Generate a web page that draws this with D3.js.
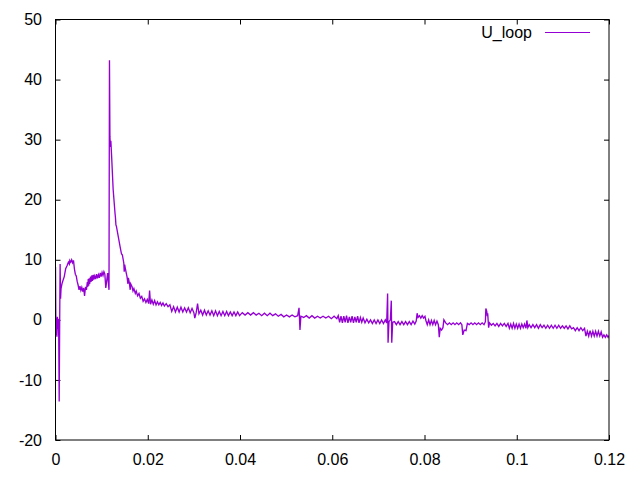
<!DOCTYPE html>
<html>
<head>
<meta charset="utf-8">
<script src="https://cdn.jsdelivr.net/npm/d3@7"></script>
<style>
  html, body { margin: 0; padding: 0; background: #fff; }
  svg { display: block; }
  text { font-family: "Liberation Sans", Arial, sans-serif; }
</style>
</head>
<body>
<script>
// ---- data ----
const seriesName = "U_loop";
const xTickValues = [0, 0.02, 0.04, 0.06, 0.08, 0.1, 0.12];
const xTickLabels = ["0", "0.02", "0.04", "0.06", "0.08", "0.1", "0.12"];
const yTickValues = [-20, -10, 0, 10, 20, 30, 40, 50];
const yTickLabels = ["-20", "-10", "0", "10", "20", "30", "40", "50"];

const time = [
0.0000,0.0001,0.0002,0.0003,0.0004,0.0005,0.0006,0.0007,0.0008,0.0009,
0.0010,0.0011,0.0012,0.0014,0.0016,0.0019,0.0022,0.0025,0.0028,0.0030,
0.0031,0.0033,0.0035,0.0037,0.0039,0.0041,0.0043,0.0045,0.0047,0.0049,
0.0051,0.0053,0.0055,0.0057,0.0059,0.0061,0.0063,0.0065,0.0067,0.0069,
0.0070,0.0071,0.0072,0.0073,0.0074,0.0076,0.0077,0.0079,0.0080,0.0082,
0.0083,0.0085,0.0087,0.0089,0.0091,0.0093,0.0095,0.0097,0.0099,0.0101,
0.0103,0.0105,0.0107,0.0109,0.0111,0.0113,0.0116,0.0117,0.0118,0.0119,
0.0120,0.0122,0.0125,0.0129,0.0130,0.0131,0.0132,0.0136,0.0140,0.0143,
0.0145,0.0148,0.0149,0.0150,0.0152,0.0155,0.0157,0.0158,0.0160,0.0162,
0.0163,0.0166,0.0168,0.0170,0.0173,0.0175,0.0178,0.0181,0.0184,0.0187,
0.0190,0.0193,0.0196,0.0199,0.0202,0.0204,0.0206,0.0209,0.0212,0.0215,
0.0218,0.0221,0.0224,0.0227,0.0230,0.0233,0.0236,0.0240,0.0244,0.0248,
0.0252,0.0256,0.0260,0.0264,0.0268,0.0272,0.0276,0.0280,0.0284,0.0288,
0.0292,0.0296,0.0300,0.0302,0.0305,0.0308,0.0311,0.0315,0.0319,0.0323,
0.0327,0.0331,0.0335,0.0339,0.0343,0.0347,0.0351,0.0355,0.0359,0.0363,
0.0367,0.0371,0.0375,0.0379,0.0383,0.0387,0.0391,0.0395,0.0399,0.0405,
0.0411,0.0417,0.0423,0.0429,0.0435,0.0441,0.0447,0.0453,0.0459,0.0465,
0.0471,0.0477,0.0483,0.0489,0.0495,0.0501,0.0507,0.0513,0.0519,0.0525,
0.0528,0.0530,0.0532,0.0538,0.0544,0.0550,0.0556,0.0562,0.0568,0.0574,
0.0580,0.0586,0.0592,0.0598,0.0604,0.0610,0.0613,0.0616,0.0619,0.0622,
0.0625,0.0628,0.0631,0.0634,0.0637,0.0640,0.0643,0.0646,0.0649,0.0652,
0.0655,0.0658,0.0661,0.0664,0.0667,0.0671,0.0675,0.0679,0.0683,0.0687,
0.0691,0.0695,0.0699,0.0703,0.0707,0.0711,0.0715,0.0718,0.0720,0.0721,
0.0723,0.0726,0.0728,0.0729,0.0731,0.0735,0.0739,0.0743,0.0747,0.0751,
0.0755,0.0759,0.0763,0.0767,0.0771,0.0775,0.0779,0.0782,0.0784,0.0786,
0.0789,0.0792,0.0795,0.0798,0.0801,0.0803,0.0806,0.0809,0.0812,0.0815,
0.0818,0.0821,0.0824,0.0827,0.0830,0.0832,0.0834,0.0837,0.0840,0.0842,
0.0846,0.0850,0.0854,0.0858,0.0862,0.0866,0.0870,0.0874,0.0878,0.0881,
0.0883,0.0886,0.0890,0.0893,0.0897,0.0901,0.0905,0.0909,0.0913,0.0917,
0.0921,0.0925,0.0929,0.0932,0.0933,0.0935,0.0936,0.0937,0.0939,0.0941,
0.0945,0.0949,0.0953,0.0957,0.0961,0.0965,0.0969,0.0973,0.0977,0.0981,
0.0984,0.0987,0.0990,0.0993,0.0996,0.0999,0.1002,0.1005,0.1008,0.1011,
0.1014,0.1017,0.1020,0.1022,0.1024,0.1027,0.1031,0.1035,0.1039,0.1043,
0.1047,0.1051,0.1055,0.1059,0.1063,0.1067,0.1071,0.1075,0.1079,0.1083,
0.1087,0.1091,0.1095,0.1099,0.1103,0.1107,0.1111,0.1115,0.1119,0.1123,
0.1127,0.1131,0.1135,0.1139,0.1143,0.1147,0.1150,0.1153,0.1156,0.1159,
0.1162,0.1165,0.1168,0.1171,0.1174,0.1177,0.1180,0.1183,0.1186,0.1189,
0.1192,0.1195,0.1198,0.1200
];

const uLoop = [
8.8,-2.5,0.3,-2.8,0.5,-1.5,0.2,-2.6,-13.6,-1.0,
9.3,3.5,5.2,6.0,6.5,7.2,8.5,9.0,9.6,9.3,
9.9,9.6,10.0,9.5,9.9,8.5,7.6,7.3,6.4,5.8,
5.0,5.6,4.9,5.4,4.7,5.3,4.0,5.5,5.0,6.3,
5.5,6.8,5.7,6.9,6.0,7.2,6.3,7.4,6.5,7.5,
6.7,7.3,6.8,7.6,6.9,7.5,7.0,7.8,7.2,7.9,
7.4,8.0,7.6,5.3,6.5,7.8,5.0,43.2,30.5,28.8,
29.8,26.7,21.7,17.8,17.0,15.8,15.6,13.9,12.2,11.0,
10.8,9.5,8.0,9.2,8.3,7.2,6.0,7.0,6.2,5.0,
6.0,5.5,4.8,5.2,4.4,4.8,4.0,4.4,3.6,3.9,
3.1,3.5,2.9,3.4,2.7,4.9,2.6,3.3,2.6,3.2,
2.5,3.0,2.5,2.9,2.4,2.8,2.3,2.7,2.2,2.5,
1.4,2.2,1.3,2.1,1.3,2.1,1.3,2.0,1.3,2.0,
1.2,1.9,1.2,0.3,1.2,2.7,1.0,1.6,0.8,1.6,
0.8,1.5,0.8,1.5,0.7,1.5,0.7,1.4,0.7,1.4,
0.7,1.4,0.7,1.3,0.7,1.3,0.7,1.3,0.7,1.2,
0.8,1.2,0.8,1.2,0.8,1.1,0.7,1.1,0.7,1.1,
0.7,1.0,0.6,0.9,0.5,0.8,0.5,0.8,0.5,0.7,
2.0,-1.7,0.6,0.4,0.7,0.3,0.7,0.3,0.6,0.3,
0.6,0.3,0.6,0.2,0.6,0.2,0.7,-0.4,0.6,-0.5,
0.6,-0.4,0.7,-0.5,0.5,-0.4,0.6,-0.5,0.5,-0.4,
0.6,-0.5,0.4,-0.4,0.3,-0.5,0.1,-0.5,0.0,-0.6,
0.0,-0.6,0.0,-0.6,0.0,-0.6,0.0,-0.5,4.4,-3.8,
-0.3,0.0,3.2,-3.8,-0.4,-0.3,-0.8,-0.3,-0.8,-0.3,
-0.8,-0.3,-0.8,-0.3,-0.8,-0.2,-0.7,-0.2,1.1,0.4,
0.7,0.3,0.7,0.3,0.6,-0.1,-0.8,0.0,-0.8,-0.1,
-0.8,-0.1,-0.8,-0.2,-0.8,-2.9,-1.4,-1.7,-1.3,0.0,
-0.5,-0.8,-0.5,-0.8,-0.5,-0.8,-0.5,-0.8,-0.5,-0.8,
-2.5,-1.7,-1.8,-0.6,-0.8,-0.5,-0.8,-0.5,-0.8,-0.5,
-0.8,-0.5,-0.8,-0.3,1.9,1.4,0.6,1.1,-1.3,-0.5,
-0.9,-0.6,-1.0,-0.6,-1.1,-0.6,-1.0,-0.6,-1.1,-0.6,
-1.4,-0.7,-1.4,-0.6,-1.4,-0.7,-1.4,-0.7,-1.4,-0.7,
-1.3,-0.7,-1.4,-0.1,-1.3,-0.8,-1.3,-0.8,-1.3,-0.8,
-1.4,-0.8,-1.3,-0.9,-1.4,-0.9,-1.4,-0.9,-1.4,-0.9,
-1.4,-0.9,-1.4,-1.0,-1.4,-1.0,-1.5,-1.0,-1.5,-1.3,
-1.8,-1.3,-1.8,-1.3,-1.8,-1.4,-2.7,-1.9,-2.7,-1.8,
-2.7,-1.9,-2.7,-1.9,-2.7,-1.9,-2.7,-2.0,-2.9,-2.5,
-2.9,-2.5,-2.9,-2.6
];

// ---- chart ----
const W = 640, H = 480;
const m = { left: 55.5, right: 609, top: 19.5, bottom: 440 };
const lineColor = "#9400d3";

const svg = d3.select("body").append("svg")
  .attr("width", W).attr("height", H);

const x = d3.scaleLinear().domain([0, 0.12]).range([m.left, m.right]);
const y = d3.scaleLinear().domain([-20, 50]).range([m.bottom, m.top]);

const tick = 5;
const fontSize = 16;

const gx = svg.append("g").attr("transform", `translate(0,${m.bottom})`)
  .call(d3.axisBottom(x).tickValues(xTickValues)
    .tickFormat((d, i) => xTickLabels[i]).tickSizeInner(-tick).tickSizeOuter(0).tickPadding(13.5));
const gxt = svg.append("g").attr("transform", `translate(0,${m.top})`)
  .call(d3.axisTop(x).tickValues(xTickValues).tickFormat("").tickSizeInner(-tick).tickSizeOuter(0));
const gy = svg.append("g").attr("transform", `translate(${m.left},0)`)
  .call(d3.axisLeft(y).tickValues(yTickValues)
    .tickFormat((d, i) => yTickLabels[i]).tickSizeInner(-tick).tickSizeOuter(0).tickPadding(13.5));
const gyr = svg.append("g").attr("transform", `translate(${m.right},0)`)
  .call(d3.axisRight(y).tickValues(yTickValues).tickFormat("").tickSizeInner(-tick).tickSizeOuter(0));

[gx, gxt, gy, gyr].forEach(g => {
  g.select(".domain").remove();
  g.selectAll(".tick line").attr("stroke", "#000").attr("stroke-width", 1);
  g.selectAll("text").attr("fill", "#000")
    .style("font-family", '"Liberation Sans", Arial, sans-serif')
    .style("font-size", fontSize + "px");
});

svg.append("clipPath").attr("id", "plotclip").append("rect")
  .attr("x", m.left).attr("y", m.top)
  .attr("width", m.right - m.left).attr("height", m.bottom - m.top);

const pts = time.map((t, i) => [t, uLoop[i]]);
const line = d3.line().x(d => x(d[0])).y(d => y(d[1]));

svg.append("path")
  .datum(pts)
  .attr("clip-path", "url(#plotclip)")
  .attr("fill", "none")
  .attr("stroke", lineColor)
  .attr("stroke-width", 1.35)
  .attr("stroke-linejoin", "miter")
  .attr("d", line);

svg.append("rect")
  .attr("x", m.left).attr("y", m.top)
  .attr("width", m.right - m.left).attr("height", m.bottom - m.top)
  .attr("fill", "none").attr("stroke", "#000").attr("stroke-width", 1);

const legY = 32.5;
svg.append("text")
  .attr("x", 532).attr("y", legY).attr("dy", "0.35em")
  .attr("text-anchor", "end")
  .style("font-size", fontSize + "px")
  .attr("fill", "#000")
  .text(seriesName);
svg.append("line")
  .attr("x1", 545).attr("x2", 590)
  .attr("y1", legY).attr("y2", legY)
  .attr("stroke", lineColor).attr("stroke-width", 1.1);
</script>
</body>
</html>
